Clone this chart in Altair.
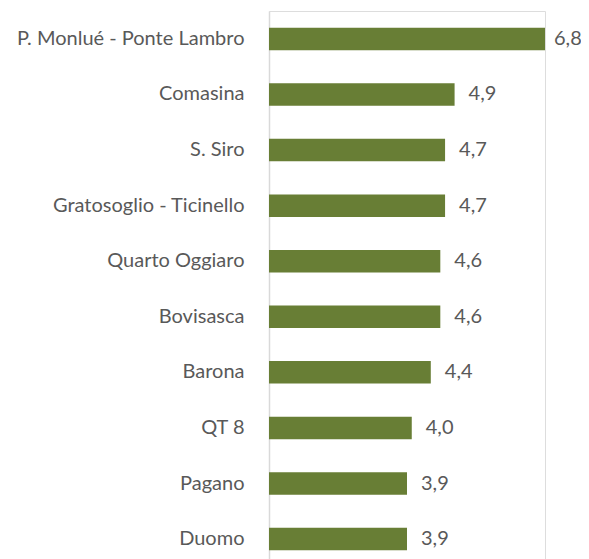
import altair as alt
import pandas as pd

zones = ["P. Monlué - Ponte Lambro", "Comasina", "S. Siro", "Gratosoglio - Ticinello",
         "Quarto Oggiaro", "Bovisasca", "Barona", "QT 8", "Pagano", "Duomo"]
values = [6.8, 4.9, 4.7, 4.7, 4.6, 4.6, 4.4, 4.0, 3.9, 3.9]

df = pd.DataFrame({"zone": zones, "value": values})
df["label"] = [f"{v:.1f}".replace(".", ",") for v in values]
df["base"] = 1

FONT = "Lato"
GREY = "#595959"

base = alt.Chart(df).encode(
    y=alt.Y("zone:N", sort=zones, title=None,
            scale=alt.Scale(paddingInner=0.595, paddingOuter=0.3),
            axis=alt.Axis(ticks=False, domain=True, domainColor="#d9d9d9", domainWidth=1.5,
                          labelFont=FONT, labelFontSize=20, labelColor=GREY,
                          labelPadding=25, labelLimit=300)),
    x=alt.X("value:Q", title=None, scale=alt.Scale(domain=[1, 6.8], nice=False, zero=False),
            axis=None),
)

bars = base.mark_bar(color="#687E35").encode(x2="base:Q")
text_main = base.mark_text(align="left", baseline="middle", dx=14, font=FONT, fontSize=20,
                           color=GREY).encode(text="label:N").transform_filter("datum.value < 6")
text_top = base.mark_text(align="left", baseline="middle", dx=9, font=FONT, fontSize=20,
                          color=GREY).encode(text="label:N").transform_filter("datum.value >= 6")

chart = (bars + text_main + text_top).properties(
    width=276, height=556,
    autosize=alt.AutoSizeParams(type="none"),
    padding={"left": 261, "top": 3, "right": 36, "bottom": 0},
).configure_view(stroke=None).configure(background="white")

chart.save("out.html", embed_options={"renderer": "svg", "actions": False})
